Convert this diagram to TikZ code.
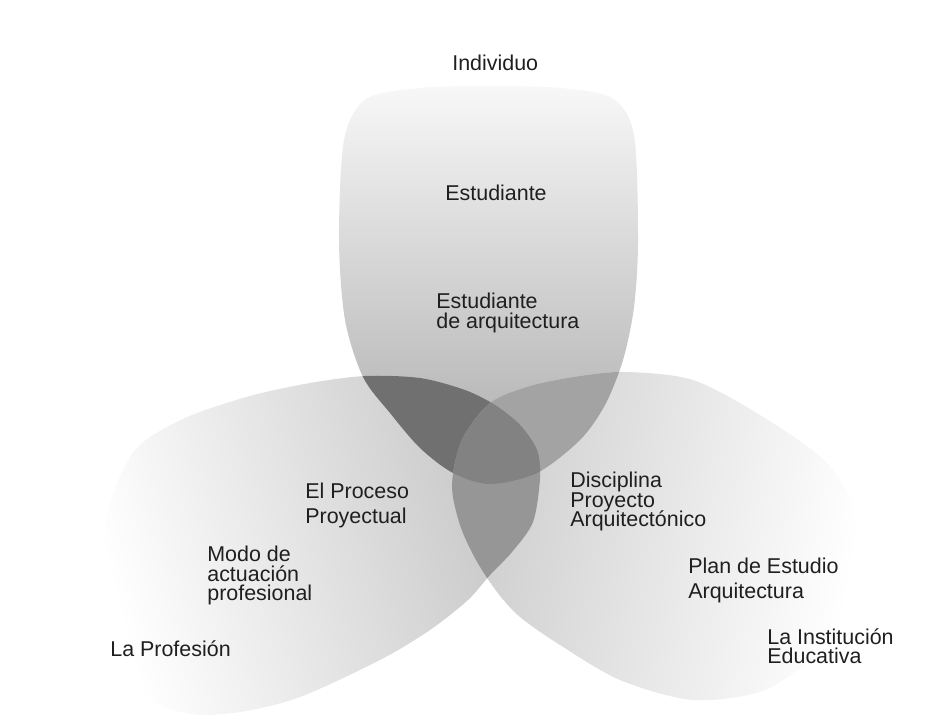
\documentclass[tikz,border=0pt]{standalone}
\usepackage{fontspec}
\setmainfont{Liberation Sans}
\definecolor{topLight}{gray}{0.97}
\definecolor{topDark}{gray}{0.67}
\definecolor{sideLight}{gray}{1}
\definecolor{leftDark}{gray}{0.77}
\definecolor{rightDark}{gray}{0.80}
\definecolor{capTL}{gray}{0.44}
\definecolor{capTR}{gray}{0.64}
\definecolor{capLR}{gray}{0.59}
\definecolor{capAll}{gray}{0.51}
\newcommand{\petalTop}{plot[smooth cycle] coordinates {(490,86) (560,88) (612,98) (634,135) (638,240) (634,307) (623,360) (605,405) (580,440) (537,473) (490,484) (453,473) (420,448) (390,413) (363,377) (345,320) (339,240) (344,140) (366,99) (420,88)}}
\newcommand{\petalLeft}{plot[smooth cycle] coordinates {(540,478) (533,522) (512,552) (490,575) (468,600) (430,630) (380,660) (300,697) (240,712) (190,714) (140,695) (104,650) (98,590) (108,510) (135,450) (185,418) (250,396) (310,383) (365,376) (420,378) (465,390) (495,405) (520,425) (537,450)}}
\newcommand{\petalRight}{plot[smooth cycle] coordinates {(452,485) (462,440) (490,403) (530,386) (580,376) (627,372) (693,380) (760,415) (827,463) (858,520) (855,590) (822,648) (765,690) (693,700) (620,680) (560,645) (520,617) (497,592) (476,560) (460,525)}}
\newcommand{\tightfont}{\fontsize{12.2}{11}\selectfont\lineskiplimit-20pt\relax}
\newcommand{\widefont}{\fontsize{12.2}{14}\selectfont}
\tikzset{
  lbl/.style={anchor=north west, align=left, inner sep=0pt, text=black!88, font=\tightfont},
  lblwide/.style={lbl, font=\widefont}
}

\begin{document}
\begin{tikzpicture}[x=0.02cm, y=-0.02cm]
  \useasboundingbox (0,0) rectangle (945,722);

  % petals
  \shade[top color=topLight, bottom color=topDark] \petalTop;
  \shade[top color=sideLight, bottom color=leftDark, shading angle=105] \petalLeft;
  \shade[top color=sideLight, bottom color=rightDark, shading angle=-100] \petalRight;

  % overlaps
  \begin{scope}
    \clip \petalTop;
    \fill[capTL] \petalLeft;
    \fill[capTR] \petalRight;
  \end{scope}
  \begin{scope}
    \clip \petalLeft;
    \fill[capLR] \petalRight;
  \end{scope}
  \begin{scope}
    \clip \petalTop;
    \clip \petalLeft;
    \fill[capAll] \petalRight;
  \end{scope}

  \node[lbl] (Individuo) at (452,55) {Individuo};
  \node[lbl] (Estudiante) at (445,185) {Estudiante};
  \node[lbl] (EstArq) at (436,293) {Estudiante\\de arquitectura};
  \node[lblwide] (Proceso) at (305,483) {El Proceso\\Proyectual};
  \node[lbl] (Modo) at (207,546) {Modo de\\actuación\\profesional};
  \node[lbl] (Profesion) at (110,640) {La Profesión};
  \node[lbl] (Disciplina) at (570,472) {Disciplina\\Proyecto\\Arquitectónico};
  \node[lblwide] (Plan) at (688,558) {Plan de Estudio\\Arquitectura};
  \node[lbl] (Institucion) at (767,628) {La Institución\\Educativa};
\end{tikzpicture}
\end{document}
